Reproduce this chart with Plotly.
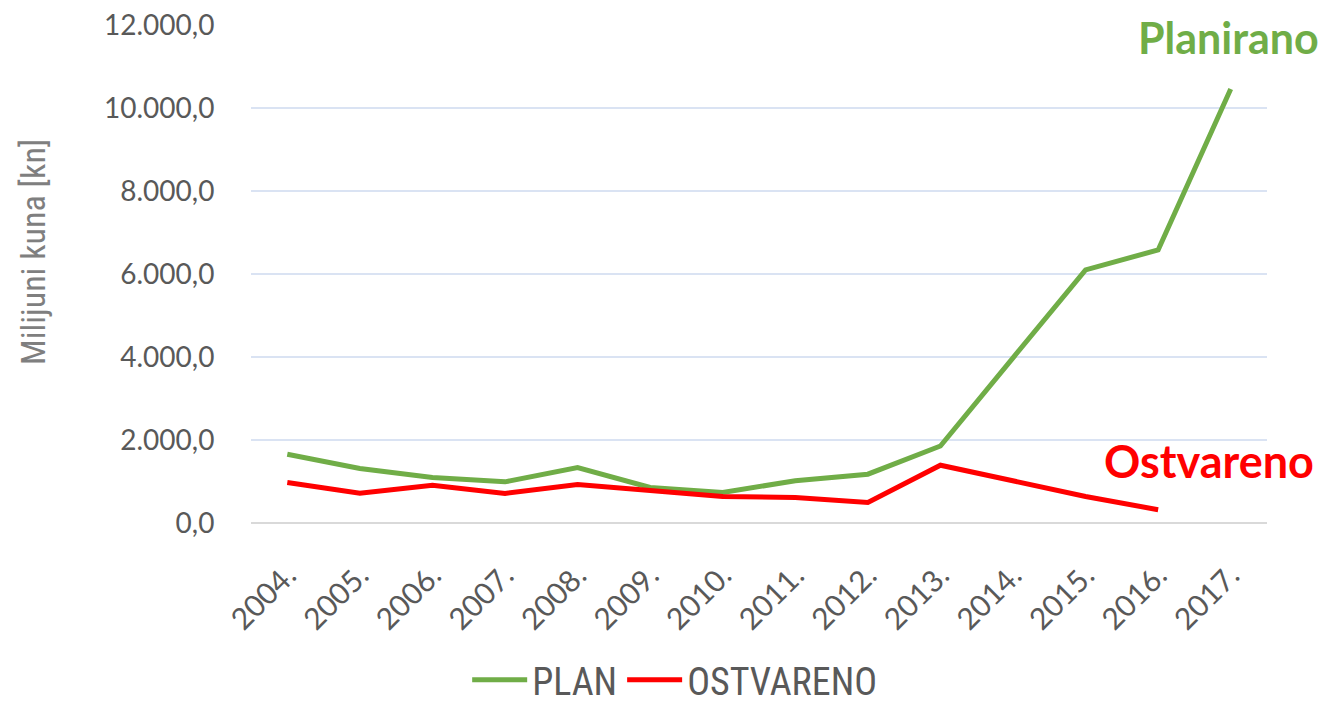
import plotly.graph_objects as go

years = ["2004.", "2005.", "2006.", "2007.", "2008.", "2009.", "2010.",
         "2011.", "2012.", "2013.", "2014.", "2015.", "2016.", "2017."]
plan = [1657, 1313, 1097, 992, 1337, 857, 737, 1016, 1176, 1856, 3980, 6100, 6580, 10460]
ostvareno = [977, 720, 912, 713, 929, 800, 641, 617, 497, 1393, 1010, 639, 320, None]

y_ticks = [0, 2000, 4000, 6000, 8000, 10000, 12000]
y_tick_labels = ["0,0", "2.000,0", "4.000,0", "6.000,0", "8.000,0", "10.000,0", "12.000,0"]

GREEN = "#70AD47"
RED = "#FF0000"
GRAY = "#595959"
NARROW = "Liberation Sans Narrow, Arial Narrow, Roboto Condensed, sans-serif"

fig = go.Figure()
fig.add_trace(go.Scatter(x=years, y=plan, mode="lines", name="PLAN",
                         line=dict(color=GREEN, width=5)))
fig.add_trace(go.Scatter(x=years, y=ostvareno, mode="lines", name="OSTVARENO",
                         line=dict(color=RED, width=5)))

fig.update_layout(
    width=1318, height=703,
    margin=dict(l=243, r=59, t=17, b=188, autoexpand=False),
    paper_bgcolor="white", plot_bgcolor="white",
    showlegend=True,
    legend=dict(orientation="h", x=0.417, xanchor="center", y=-0.252, yanchor="top",
                font=dict(family=NARROW, size=38, color=GRAY),
                itemwidth=55, traceorder="normal"),
    xaxis=dict(type="category", range=[-0.5, 13.5], tickangle=-45, showgrid=False,
               tickfont=dict(family="Lato, Open Sans, sans-serif", size=30, color=GRAY),
               ticks="outside", ticklen=22, tickcolor="rgba(0,0,0,0)",
               showline=False, zeroline=False, automargin=False),
    yaxis=dict(range=[0, 12000], tickvals=y_ticks, ticktext=y_tick_labels,
               showgrid=True, gridcolor="#DAE3F3", gridwidth=1.5,
               zeroline=True, zerolinecolor="#D9D9D9", zerolinewidth=2,
               tickfont=dict(family="Lato, Open Sans, sans-serif", size=28, color=GRAY),
               ticks="outside", ticklen=30, tickcolor="rgba(0,0,0,0)",
               ticklabeloverflow="allow",
               automargin=False),
    annotations=[
        dict(text="Milijuni kuna [kn]", xref="paper", yref="paper",
             x=0, y=(523 - 252) / 498, xshift=-218, textangle=-90,
             xanchor="center", yanchor="middle", showarrow=False,
             font=dict(family=NARROW, size=34, color="#7F7F7F")),
        dict(text="<b>Planirano</b>", xref="paper", yref="paper",
             x=(1228 - 251) / 1016, y=(523 - 38) / 498, xanchor="center", yanchor="middle",
             showarrow=False, font=dict(family="Lato, Open Sans, sans-serif", size=43, color=GREEN)),
        dict(text="<b>Ostvareno</b>", xref="paper", yref="paper",
             x=(1209 - 251) / 1016, y=(523 - 461) / 498, xanchor="center", yanchor="middle",
             showarrow=False, font=dict(family="Lato, Open Sans, sans-serif", size=45, color=RED)),
    ],
)

fig.write_html("out.html")
